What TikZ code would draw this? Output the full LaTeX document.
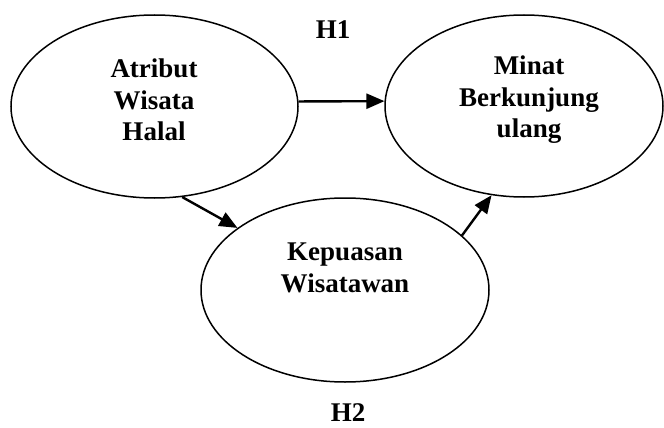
\documentclass[tikz,border=0pt]{standalone}
\usepackage{fontspec}
\setmainfont{Liberation Serif}
\usetikzlibrary{shapes.geometric,arrows.meta}
\begin{document}
\begin{tikzpicture}[x=1pt,y=-1pt,
  oval/.style={draw,ellipse,line width=1.5pt,inner sep=0pt},
  lbl/.style={font=\fontsize{27}{31.5}\selectfont\bfseries,align=center,inner sep=0pt},
  conn/.style={line width=2.4pt,-{Triangle[length=18pt,width=15pt]}}]
\useasboundingbox[fill=white] (0,0) rectangle (664,428);
\node[oval,minimum width=287pt,minimum height=183pt] (a) at (154.5,106.5) {};
\node[oval,minimum width=278pt,minimum height=182pt] (b) at (524,106) {};
\node[oval,minimum width=288pt,minimum height=184pt] (c) at (345,290) {};
\node[lbl] (ta) at (154,100) {Atribut\\Wisata\\Halal};
\node[lbl] (tb) at (529,100) {Minat\\Berkunjung\\ulang};
\node[lbl] (tc) at (345,268) {Kepuasan\\Wisatawan};
\node[lbl] (h1) at (333,30) {H1};
\node[lbl] (h2) at (348,413) {H2};
\draw[conn] (a.2) -- (b.178);
\draw[conn] (a.-73) -- (c.150);
\draw[conn] (c.25) -- (b.-110);
\end{tikzpicture}
\end{document}
